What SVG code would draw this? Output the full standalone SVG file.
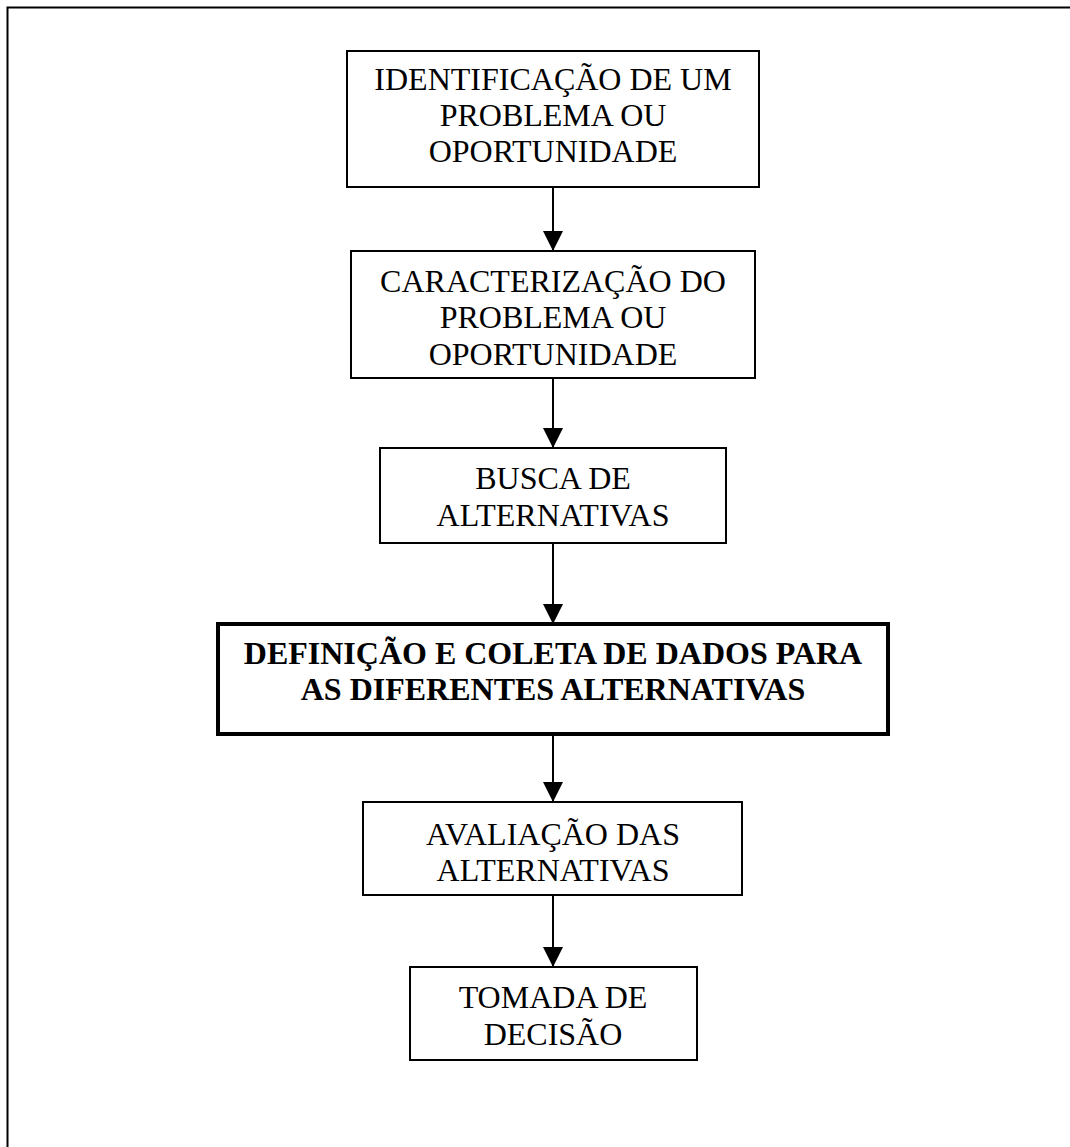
<svg xmlns="http://www.w3.org/2000/svg" width="1070" height="1147" viewBox="0 0 1070 1147">
  <style>
    .box { fill: #ffffff; stroke: #000000; stroke-width: 2; }
    .bold-box { fill: #ffffff; stroke: #000000; stroke-width: 4; }
    .label { font-family: "Liberation Serif", "Times New Roman", serif; font-size: 32px; fill: #000000; text-anchor: middle; }
    .label-bold { font-weight: bold; }
    .edge { stroke: #000000; stroke-width: 2; fill: none; marker-end: url(#arrow); }
  </style>
  <defs>
    <marker id="arrow" markerWidth="11" markerHeight="10" refX="10" refY="5" orient="auto" markerUnits="strokeWidth">
      <path d="M0,0 L10,5 L0,10 Z" fill="#000000"/>
    </marker>
  </defs>

  <rect width="1070" height="1147" fill="#ffffff"/>
  <!-- page frame -->
  <rect x="7.5" y="7.5" width="1080" height="1160" fill="none" stroke="#000000" stroke-width="2"/>

  <g id="n1">
    <rect class="box" x="347" y="51" width="412" height="136"/>
    <text class="label" x="553" y="90">IDENTIFICAÇÃO DE UM</text>
    <text class="label" x="553" y="126">PROBLEMA OU</text>
    <text class="label" x="553" y="162">OPORTUNIDADE</text>
  </g>

  <g id="n2">
    <rect class="box" x="351" y="251" width="404" height="127"/>
    <text class="label" x="553" y="292">CARACTERIZAÇÃO DO</text>
    <text class="label" x="553" y="328">PROBLEMA OU</text>
    <text class="label" x="553" y="365">OPORTUNIDADE</text>
  </g>

  <g id="n3">
    <rect class="box" x="380" y="448" width="346" height="95"/>
    <text class="label" x="553" y="489">BUSCA DE</text>
    <text class="label" x="553" y="526">ALTERNATIVAS</text>
  </g>

  <g id="n4">
    <rect class="bold-box" x="218" y="624" width="670" height="110"/>
    <text class="label label-bold" x="553" y="664">DEFINIÇÃO E COLETA DE DADOS PARA</text>
    <text class="label label-bold" x="553" y="700">AS DIFERENTES ALTERNATIVAS</text>
  </g>

  <g id="n5">
    <rect class="box" x="363" y="802" width="379" height="93"/>
    <text class="label" x="553" y="845">AVALIAÇÃO DAS</text>
    <text class="label" x="553" y="881">ALTERNATIVAS</text>
  </g>

  <g id="n6">
    <rect class="box" x="410" y="967" width="287" height="93"/>
    <text class="label" x="553" y="1008">TOMADA DE</text>
    <text class="label" x="553" y="1045">DECISÃO</text>
  </g>

  <g id="connectors">
    <line class="edge" x1="553" y1="187" x2="553" y2="251"/>
    <line class="edge" x1="553" y1="378" x2="553" y2="448"/>
    <line class="edge" x1="553" y1="543" x2="553" y2="624"/>
    <line class="edge" x1="553" y1="734" x2="553" y2="802"/>
    <line class="edge" x1="553" y1="895" x2="553" y2="967"/>
  </g>
</svg>
